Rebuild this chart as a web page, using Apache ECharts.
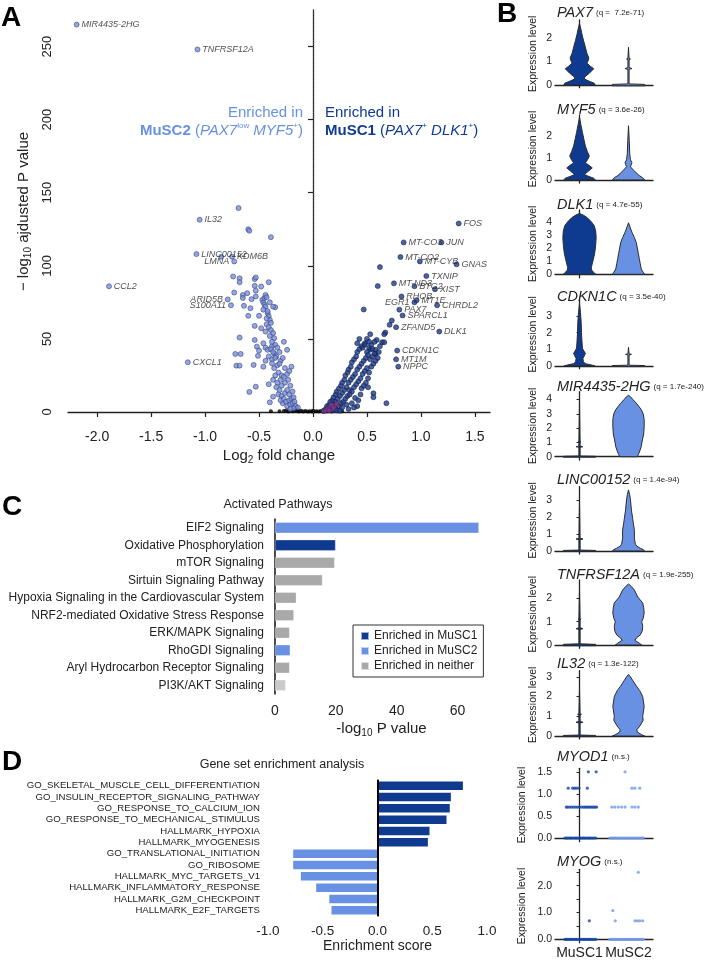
<!DOCTYPE html>
<html>
<head>
<meta charset="utf-8">
<script src="https://cdn.jsdelivr.net/npm/echarts@6/dist/echarts.min.js"></script>
<style>
html, body { margin: 0; padding: 0; background: #fff; }
#main { width: 708px; height: 960px; }
</style>
</head>
<body>
<div id="main"></div>
<script>
var FONT = '"Liberation Sans", Arial, Helvetica, sans-serif';
var DARK = '#0e3b8f';
var LIGHT = '#6891e4';
var INK = '#222';

// ---------- A: volcano (log2 fold change, -log10 adjusted p) ----------
var musc2Points = [
    [-0.69, 139.5], [-0.60, 125], [-0.59, 124], [-0.39, 119.6], [-0.85, 106.2],
    [-0.74, 92.7], [-0.68, 91.5], [-0.68, 88.8], [-0.54, 90.9], [-0.53, 92], [-0.48, 85.8], [-0.41, 88.8], [-0.54, 86.3], [-0.53, 83],
    [-0.73, 81.7], [-0.65, 80], [-0.65, 78], [-0.61, 81.3], [-0.57, 77.2], [-0.53, 79], [-0.47, 76.7], [-0.46, 75], [-0.45, 73.5], [-0.44, 72.1],
    [-0.64, 72.6], [-0.58, 71], [-0.35, 71.7], [-0.60, 65.8], [-0.50, 65.8], [-0.42, 67.6], [-0.41, 65.5], [-0.40, 63],
    [-0.54, 58.9], [-0.48, 57.3], [-0.43, 60], [-0.41, 58], [-0.39, 56], [-0.37, 54], [-0.40, 52], [-0.36, 50.5],
    [-0.68, 50.9], [-0.54, 49.3], [-0.52, 44.7], [-0.46, 47], [-0.50, 42], [-0.44, 44], [-0.42, 42.5], [-0.38, 45], [-0.35, 46], [-0.33, 44],
    [-0.72, 39.7], [-0.67, 39.7], [-0.71, 31.7], [-0.68, 31.7], [-0.55, 32.2], [-0.51, 38.4], [-0.46, 31], [-0.44, 35], [-0.41, 38], [-0.38, 36], [-0.36, 40], [-0.34, 38], [-0.31, 41],
    [-0.38, 33.3], [-0.36, 30], [-0.33, 32], [-0.30, 35], [-0.28, 37], [-0.27, 48], [-0.24, 42.5], [-0.26, 30], [-0.32, 27], [-0.29, 25], [-0.35, 25], [-0.37, 22], [-0.33, 20], [-0.30, 22], [-0.27, 24], [-0.24, 26], [-0.22, 28], [-0.20, 31],
    [-0.59, 13.7], [-0.53, 17.3], [-0.40, 6.6], [-0.41, 19], [-0.37, 10.5], [-0.28, 6],
    [-0.34, 17], [-0.31, 15], [-0.29, 18], [-0.26, 20], [-0.23, 22], [-0.21, 18], [-0.32, 12], [-0.29, 11], [-0.26, 13], [-0.24, 15], [-0.22, 12], [-0.19, 14],
    [-0.30, 8], [-0.27, 9], [-0.25, 7], [-0.22, 8], [-0.20, 9], [-0.18, 10], [-0.24, 4], [-0.21, 5], [-0.19, 6], [-0.17, 7], [-0.16, 4], [-0.14, 3], [-0.18, 2.5], [-0.21, 2],
    [-0.45, 78], [-0.46, 70], [-0.43, 64], [-0.39, 61], [-0.44, 55], [-0.38, 48], [-0.39, 43], [-0.37, 41], [-0.35, 37], [-0.31, 33],
    [-0.44, 80], [-0.43, 78.5], [-0.42, 69], [-0.40, 75], [-0.37, 72]
];
var musc1Points = [
    [0.62, 99.1], [0.60, 86.1], [0.47, 70.1], [0.73, 62.6], [0.71, 59.6], [0.67, 54.3], [0.66, 53.2], [0.53, 53.2], [0.59, 49.3],
    [0.64, 47.7], [0.66, 47.7], [0.48, 47], [0.53, 42.6], [0.58, 42.6], [0.58, 39.5], [0.45, 16.2], [0.51, 16.9], [0.56, 12.8],
    [0.56, 10.1], [0.68, 6], [0.39, 9.6], [0.34, 15],
    [0.10, 1], [0.12, 2], [0.13, 4], [0.15, 5], [0.16, 7], [0.18, 8], [0.19, 10], [0.21, 12], [0.22, 14], [0.24, 16], [0.26, 18],
    [0.27, 20], [0.29, 22], [0.30, 25], [0.32, 27], [0.33, 29], [0.35, 31], [0.36, 34], [0.38, 36], [0.40, 38], [0.41, 41],
    [0.43, 43], [0.45, 45], [0.46, 44], [0.48, 46], [0.50, 41], [0.52, 44], [0.54, 46], [0.55, 43],
    [0.14, 1.5], [0.17, 3], [0.19, 5], [0.21, 7], [0.23, 9], [0.25, 11], [0.27, 13], [0.29, 15], [0.31, 17], [0.33, 20], [0.35, 22],
    [0.37, 24], [0.39, 26], [0.41, 29], [0.43, 31], [0.45, 33], [0.47, 35], [0.49, 37], [0.51, 39], [0.53, 36], [0.55, 38], [0.57, 40],
    [0.18, 1], [0.21, 2], [0.24, 4], [0.26, 6], [0.28, 7], [0.30, 9], [0.32, 11], [0.34, 12], [0.36, 14], [0.38, 17], [0.40, 19],
    [0.42, 21], [0.44, 23], [0.46, 26], [0.48, 28], [0.50, 30], [0.52, 27], [0.54, 31], [0.56, 33], [0.58, 35], [0.60, 37],
    [0.31, 5], [0.36, 6], [0.42, 8], [0.44, 12], [0.47, 18], [0.49, 20], [0.51, 23], [0.41, 4], [0.38, 3], [0.27, 3], [0.33, 2],
    [0.22, 1], [0.25, 0.8], [0.62, 45], [0.61, 41], [0.57, 48], [0.50, 50], [0.52, 48], [0.43, 50], [0.41, 47]
];
var densePoints = [
    [0.10, 0.5], [0.12, 1.2], [0.14, 2.2], [0.16, 3.5], [0.18, 2], [0.20, 4.5], [0.15, 1], [0.19, 3], [0.22, 5.5], [0.17, 5]
];
var nsPoints = [
    [-0.39, 0.5], [-0.31, 0.5], [-0.27, 0.6], [-0.25, 1], [-0.23, 0.4], [-0.21, 0.8], [-0.19, 0.5], [-0.17, 1.2], [-0.15, 0.6],
    [-0.13, 0.3], [-0.11, 0.8], [-0.09, 0.4], [-0.07, 0.6], [-0.05, 0.3], [-0.03, 0.5], [-0.01, 0.4], [0.01, 0.3], [0.03, 0.5],
    [0.05, 0.4], [0.07, 0.6], [0.09, 0.3], [0.11, 0.5], [0.13, 0.4], [0.15, 0.6], [0.17, 0.3], [0.27, 0.5], [-0.14, 1.5], [0.0, 0.8]
];
var musc2Labeled = [
    ['MIR4435-2HG', -2.19, 265], ['TNFRSF12A', -1.07, 248], ['IL32', -1.05, 131.5], ['LINC00152', -1.08, 108],
    ['KDM6B', -0.75, 106.2], ['LMNA', -0.73, 103], ['CCL2', -1.89, 86], ['ARID5B', -0.79, 77], ['S100A11', -0.76, 73],
    ['CXCL1', -1.16, 34]
];
var musc1Labeled = [
    ['FOS', 1.35, 129], ['MT-CO3', 0.84, 116], ['JUN', 1.19, 116], ['MT-CO2', 0.81, 106], ['MT-CYB', 0.99, 103],
    ['GNAS', 1.33, 101], ['TXNIP', 1.05, 93], ['MT-ND3', 0.75, 88], ['BTG2', 0.94, 86], ['XIST', 1.13, 84],
    ['RHOB', 0.82, 79], ['EGR1', 0.94, 75], ['MT1E', 0.96, 76.5], ['CHRDL2', 1.15, 73], ['PAX7', 0.80, 70],
    ['SPARCL1', 0.83, 66], ['ZFAND5', 0.77, 58], ['DLK1', 1.17, 55], ['CDKN1C', 0.78, 42], ['MT1M', 0.77, 36],
    ['NPPC', 0.79, 31]
];
var labelOnLeft = ['LMNA', 'ARID5B', 'S100A11', 'EGR1'];
var volcanoXTicks = [-2, -1.5, -1, -0.5, 0, 0.5, 1, 1.5];
var volcanoYTicks = [0, 50, 100, 150, 200, 250];

// ---------- B: expression per cluster ----------
var groups = ['MuSC1', 'MuSC2'];
var violinGenes = ['PAX7', 'MYF5', 'DLK1', 'CDKN1C', 'MIR4435-2HG', 'LINC00152', 'TNFRSF12A', 'IL32'];
var violinQ = ['(q =  7.2e-71)', '(q = 3.6e-26)', '(q = 4.7e-55)', '(q = 3.5e-40)', '(q = 1.7e-240)', '(q = 1.4e-94)', '(q = 1.9e-255)', '(q = 1.3e-122)'];
var violinTicks = [[0, 1, 2], [0, 1, 2], [0, 1, 2, 3, 4], [0, 1, 2, 3], [0, 1, 2, 3, 4], [0, 1, 2, 3], [0, 1, 2], [0, 1, 2, 3]];
// [expression, half width in cluster units] from bottom to top
var violinProfiles = [
    [
        [[0, 0.32], [0.08, 0.3], [0.16, 0.2], [0.26, 0.1], [0.35, 0.11], [0.5, 0.2], [0.69, 0.29], [0.8, 0.22], [0.93, 0.15], [1.05, 0.18], [1.15, 0.19], [1.35, 0.15], [1.6, 0.12], [1.9, 0.08], [2.15, 0.05], [2.4, 0.025], [2.6, 0]],
        [[-0.03, 0.33], [0.03, 0.33], [0.05, 0.012], [0.66, 0.012], [0.7, 0.07], [0.74, 0.012], [1.07, 0.012], [1.1, 0.04], [1.13, 0.012], [1.6, 0]]
    ],
    [
        [[0, 0.32], [0.08, 0.29], [0.17, 0.18], [0.25, 0.1], [0.4, 0.18], [0.55, 0.26], [0.66, 0.2], [0.78, 0.12], [0.95, 0.17], [1.1, 0.2], [1.3, 0.16], [1.55, 0.12], [1.85, 0.09], [2.17, 0.06], [2.5, 0.03], [2.86, 0]],
        [[0, 0.33], [0.1, 0.29], [0.2, 0.22], [0.32, 0.16], [0.45, 0.1], [0.6, 0.04], [0.72, 0.06], [0.8, 0.07], [0.92, 0.04], [1.2, 0.025], [1.8, 0.015], [2.48, 0]]
    ],
    [
        [[0, 0.33], [0.12, 0.3], [0.3, 0.25], [0.5, 0.24], [0.8, 0.26], [1.1, 0.28], [1.6, 0.31], [2.2, 0.33], [2.8, 0.34], [3.3, 0.33], [3.7, 0.3], [4.0, 0.24], [4.3, 0.16], [4.5, 0.08], [4.63, 0]],
        [[0, 0.33], [0.15, 0.3], [0.4, 0.26], [0.8, 0.24], [1.2, 0.22], [1.6, 0.2], [2.0, 0.18], [2.4, 0.16], [2.8, 0.12], [3.2, 0.07], [3.6, 0.03], [3.92, 0]]
    ],
    [
        [[0, 0.32], [0.06, 0.25], [0.14, 0.12], [0.26, 0.08], [0.46, 0.07], [0.62, 0.1], [0.76, 0.12], [0.9, 0.09], [1.06, 0.06], [1.5, 0.05], [2.0, 0.04], [2.6, 0.035], [3.2, 0.02], [3.76, 0]],
        [[-0.03, 0.33], [0.03, 0.33], [0.05, 0.012], [0.66, 0.012], [0.7, 0.06], [0.74, 0.012], [1.12, 0]]
    ],
    [
        [[-0.03, 0.33], [0.03, 0.33], [0.05, 0.012], [0.66, 0.012], [0.7, 0.07], [0.74, 0.012], [1.02, 0.012], [1.05, 0.03], [1.08, 0.012], [3.83, 0]],
        [[0, 0.18], [0.15, 0.2], [0.4, 0.23], [0.7, 0.26], [1.1, 0.28], [1.6, 0.31], [2.1, 0.32], [2.6, 0.32], [3.0, 0.3], [3.3, 0.26], [3.7, 0.17], [4.0, 0.09], [4.2, 0.04], [4.3, 0]]
    ],
    [
        [[-0.03, 0.33], [0.03, 0.33], [0.05, 0.012], [0.66, 0.012], [0.7, 0.07], [0.74, 0.012], [2.85, 0]],
        [[0, 0.33], [0.08, 0.3], [0.16, 0.24], [0.28, 0.17], [0.4, 0.14], [0.75, 0.12], [1.25, 0.12], [1.6, 0.1], [1.9, 0.085], [2.4, 0.06], [3.0, 0.04], [3.3, 0.025], [3.59, 0]]
    ],
    [
        [[-0.03, 0.33], [0.03, 0.33], [0.05, 0.012], [0.66, 0.012], [0.7, 0.07], [0.74, 0.012], [1.07, 0.012], [1.1, 0.03], [1.13, 0.012], [2.4, 0]],
        [[0, 0.27], [0.08, 0.22], [0.2, 0.13], [0.3, 0.16], [0.43, 0.24], [0.6, 0.28], [0.8, 0.29], [1.0, 0.27], [1.15, 0.3], [1.36, 0.32], [1.6, 0.31], [1.8, 0.29], [2.05, 0.19], [2.35, 0.12], [2.5, 0.06], [2.61, 0]]
    ],
    [
        [[-0.03, 0.33], [0.03, 0.33], [0.05, 0.012], [0.66, 0.012], [0.7, 0.07], [0.74, 0.012], [1.07, 0.012], [1.1, 0.04], [1.13, 0.012], [2.4, 0]],
        [[0, 0.33], [0.08, 0.26], [0.2, 0.18], [0.32, 0.17], [0.5, 0.23], [0.8, 0.3], [1.0, 0.29], [1.5, 0.32], [2.0, 0.29], [2.3, 0.23], [2.5, 0.17], [2.8, 0.09], [3.0, 0.04], [3.12, 0]]
    ]
];
var stripGenes = ['MYOD1', 'MYOG'];
var stripQ = ['(n.s.)', '(n.s.)'];
var stripTicks = [[0, 0.5, 1, 1.5], [0, 1, 2]];
var stripMinorTicks = [[0, 0.5, 1, 1.5], [0, 0.5, 1, 1.5, 2, 2.5]];
// [jitter within cluster, expression]
var myod1Musc1 = [
    [-0.30, 0], [-0.27, 0], [-0.25, 0], [-0.22, 0], [-0.19, 0], [-0.17, 0], [-0.14, 0], [-0.11, 0], [-0.08, 0], [-0.06, 0], [-0.03, 0], [0.0, 0],
    [0.02, 0], [0.05, 0], [0.08, 0], [0.1, 0], [0.13, 0], [0.16, 0], [0.19, 0], [0.21, 0], [0.24, 0], [0.27, 0], [0.3, 0], [0.33, 0],
    [-0.27, 0.7], [-0.24, 0.7], [-0.2, 0.7], [-0.16, 0.7], [-0.12, 0.7], [-0.08, 0.7], [-0.04, 0.7], [0.0, 0.7], [0.04, 0.7], [0.08, 0.7],
    [0.11, 0.7], [0.14, 0.7], [0.17, 0.7], [0.2, 0.7], [0.23, 0.7], [0.26, 0.7], [0.29, 0.7], [0.32, 0.7], [0.35, 0.7],
    [-0.23, 1.13], [-0.14, 1.13], [-0.10, 1.13], [-0.06, 1.13], [-0.01, 1.13], [0.16, 1.13],
    [0.18, 1.5], [0.34, 1.5]
];
var myod1Musc2 = [
    [-0.38, 0], [-0.35, 0], [-0.32, 0], [-0.29, 0], [-0.26, 0], [-0.23, 0], [-0.2, 0], [-0.17, 0], [-0.14, 0], [-0.11, 0], [-0.08, 0], [-0.05, 0],
    [-0.02, 0], [0.01, 0], [0.04, 0], [0.07, 0], [0.1, 0], [0.13, 0], [0.16, 0], [0.19, 0], [0.22, 0], [0.25, 0], [0.28, 0], [0.3, 0],
    [-0.34, 0.7], [-0.28, 0.7], [-0.21, 0.7], [-0.14, 0.7], [-0.07, 0.7], [0.07, 0.7], [0.13, 0.7], [0.2, 0.7],
    [0.07, 1.13], [0.13, 1.13], [0.23, 1.13],
    [-0.07, 1.5]
];
var myogMusc1 = [
    [-0.30, 0], [-0.27, 0], [-0.25, 0], [-0.22, 0], [-0.19, 0], [-0.17, 0], [-0.14, 0], [-0.11, 0], [-0.08, 0], [-0.06, 0], [-0.03, 0], [0.0, 0],
    [0.02, 0], [0.05, 0], [0.08, 0], [0.1, 0], [0.13, 0], [0.16, 0], [0.19, 0], [0.21, 0], [0.24, 0], [0.27, 0], [0.3, 0], [0.33, 0],
    [0.2, 0.69]
];
var myogMusc2 = [
    [-0.38, 0], [-0.35, 0], [-0.32, 0], [-0.29, 0], [-0.26, 0], [-0.23, 0], [-0.2, 0], [-0.17, 0], [-0.14, 0], [-0.11, 0], [-0.08, 0], [-0.05, 0],
    [-0.02, 0], [0.01, 0], [0.04, 0], [0.07, 0], [0.1, 0], [0.13, 0], [0.16, 0], [0.19, 0], [0.22, 0], [0.25, 0], [0.28, 0], [0.3, 0],
    [-0.32, 1.07], [-0.27, 0.69], [0.13, 0.69], [0.18, 0.69], [0.23, 0.69], [0.29, 0.69], [0.2, 2.5]
];

// ---------- C: IPA pathways ----------
var pathways = ['EIF2 Signaling', 'Oxidative Phosphorylation', 'mTOR Signaling', 'Sirtuin Signaling Pathway',
    'Hypoxia Signaling in the Cardiovascular System', 'NRF2-mediated Oxidative Stress Response', 'ERK/MAPK Signaling',
    'RhoGDI Signaling', 'Aryl Hydrocarbon Receptor Signaling', 'PI3K/AKT Signaling'];
var pathwayLogP = [67, 19.9, 19.6, 15.6, 7.0, 6.2, 4.8, 5.0, 4.8, 3.5];
var pathwayGroup = [1, 0, 2, 2, 2, 2, 2, 1, 2, 2];
var pathwayGroupNames = ['Enriched in MuSC1', 'Enriched in MuSC2', 'Enriched in neither'];
var fadedPathways = ['PI3K/AKT Signaling'];

// ---------- D: GSEA ----------
var gseaSets = ['GO_SKELETAL_MUSCLE_CELL_DIFFERENTIATION', 'GO_INSULIN_RECEPTOR_SIGNALING_PATHWAY', 'GO_RESPONSE_TO_CALCIUM_ION',
    'GO_RESPONSE_TO_MECHANICAL_STIMULUS', 'HALLMARK_HYPOXIA', 'HALLMARK_MYOGENESIS', 'GO_TRANSLATIONAL_INITIATION', 'GO_RIBOSOME',
    'HALLMARK_MYC_TARGETS_V1', 'HALLMARK_INFLAMMATORY_RESPONSE', 'HALLMARK_G2M_CHECKPOINT', 'HALLMARK_E2F_TARGETS'];
var gseaScores = [0.78, 0.67, 0.66, 0.63, 0.475, 0.46, -0.77, -0.77, -0.70, -0.56, -0.44, -0.42];

// ---------- layout ----------
// B panels: [top, bottom, yMin, yMax, titleY]
var bLayout = [
    [20, 87.7, -0.11, 2.75, 13],
    [115, 183, -0.14, 2.97, 110],
    [210, 277.7, -0.26, 4.89, 205],
    [300, 368.7, -0.16, 3.96, 297],
    [391.7, 460, -0.23, 4.55, 387],
    [486.7, 554, -0.18, 3.78, 480],
    [580, 648.3, -0.14, 2.78, 575],
    [670.7, 739, -0.15, 3.31, 664],
    [768.3, 841.7, -0.084, 1.58, 757],
    [869.3, 942.7, -0.127, 2.61, 862]
];

var chartDom = echarts.init(document.getElementById('main'));

var axisLineStyle = { lineStyle: { color: INK, width: 1.3 } };
var subRich = { s: { fontSize: 10, verticalAlign: 'bottom', padding: [8, 0, 0, 0], fontFamily: FONT } };
var grids = [{ left: 68, top: 10, width: 422, height: 403 }];
var xAxes = [{
    gridIndex: 0, type: 'value', min: -2.27, max: 1.64, offset: 11,
    axisLine: axisLineStyle,
    axisTick: { length: 5, customValues: volcanoXTicks, lineStyle: { color: INK, width: 1.2 } },
    axisLabel: { customValues: volcanoXTicks, formatter: function (v) { return v.toFixed(1); }, fontSize: 14, color: INK, margin: 6, fontFamily: FONT },
    splitLine: { show: false },
    name: 'Log{s|2} fold change', nameLocation: 'middle', nameGap: 23,
    nameTextStyle: { fontSize: 15, color: INK, fontFamily: FONT, rich: subRich }
}];
var yAxes = [{
    gridIndex: 0, type: 'value', min: -0.7, max: 275, offset: 7,
    axisLine: axisLineStyle,
    axisTick: { length: 5, customValues: volcanoYTicks, lineStyle: { color: INK, width: 1.2 } },
    axisLabel: { customValues: volcanoYTicks, rotate: 90, fontSize: 13, color: INK, margin: 7, fontFamily: FONT },
    splitLine: { show: false },
    name: '\u2212 log{s|10} ajdusted P value', nameLocation: 'middle', nameRotate: 90, nameGap: 26,
    nameTextStyle: { fontSize: 15, color: INK, fontFamily: FONT, rich: subRich }
}];

var pointStyle2 = { color: '#7b90dc', borderColor: '#2f3b70', borderWidth: 0.7 };
var pointStyle1 = { color: '#1f3c8a', borderColor: '#0f1c44', borderWidth: 0.7 };
function labeledData(list) {
    return list.map(function (g) {
        return {
            name: g[0], value: [g[1], g[2]],
            label: { position: labelOnLeft.indexOf(g[0]) >= 0 ? 'left' : 'right' }
        };
    });
}
var geneLabel = { show: true, formatter: '{b}', fontSize: 9, fontStyle: 'italic', color: INK, distance: 2, fontFamily: FONT };

var series = [
    { type: 'scatter', xAxisIndex: 0, yAxisIndex: 0, data: nsPoints, symbolSize: 4, itemStyle: { color: '#000' }, clip: false, silent: true,
      markLine: { silent: true, symbol: 'none', label: { show: false }, lineStyle: { type: 'dotted', color: '#444', width: 1 }, data: [{ xAxis: 0 }] } },
    { type: 'scatter', xAxisIndex: 0, yAxisIndex: 0, data: musc2Points, symbolSize: 5, itemStyle: pointStyle2, clip: false, silent: true },
    { type: 'scatter', xAxisIndex: 0, yAxisIndex: 0, data: musc1Points, symbolSize: 5, itemStyle: pointStyle1, clip: false, silent: true },
    { type: 'scatter', xAxisIndex: 0, yAxisIndex: 0, data: densePoints, symbolSize: 5, itemStyle: { color: '#7a3d8a', borderColor: '#3a1a4a', borderWidth: 0.5 }, clip: false, silent: true },
    { type: 'scatter', xAxisIndex: 0, yAxisIndex: 0, data: labeledData(musc2Labeled), symbolSize: 5, itemStyle: pointStyle2, label: geneLabel, clip: false, silent: true },
    { type: 'scatter', xAxisIndex: 0, yAxisIndex: 0, data: labeledData(musc1Labeled), symbolSize: 5, itemStyle: pointStyle1, label: geneLabel, clip: false, silent: true }
];

var graphics = [];
function addText(x, y, text, font, color, align, rich) {
    var s = { text: text, x: x, y: y, font: font, fill: color || INK, align: align || 'left', verticalAlign: 'middle' };
    if (rich) s.rich = rich;
    graphics.push({ type: 'text', style: s, silent: true });
}

// panel letters
addText(1, 18, 'A', 'bold 28px ' + FONT, '#000');
addText(497, 14, 'B', 'bold 28px ' + FONT, '#000');
addText(2, 507, 'C', 'bold 28px ' + FONT, '#000');
addText(2, 762, 'D', 'bold 28px ' + FONT, '#000');

// volcano annotations
var annRich = function (c) {
    return {
        n: { fontSize: 15, fontFamily: FONT, color: c, lineHeight: 18 },
        b: { fontSize: 15, fontWeight: 'bold', fontFamily: FONT, color: c, lineHeight: 18 },
        i: { fontSize: 15, fontStyle: 'italic', fontFamily: FONT, color: c, lineHeight: 18 },
        s: { fontSize: 8, fontFamily: FONT, color: c, verticalAlign: 'top', lineHeight: 18 }
    };
};
addText(303, 122, '{n|Enriched in}\n{b|MuSC2} {n|(}{i|PAX7}{s|low} {i|MYF5}{s|+}{n|)}', '15px ' + FONT, LIGHT, 'right', annRich(LIGHT));
addText(325, 122, '{n|Enriched in}\n{b|MuSC1} {n|(}{i|PAX7}{s|+} {i|DLK1}{s|+}{n|)}', '15px ' + FONT, DARK, 'left', annRich(DARK));

// B panels
var titleRich = {
    g: { fontSize: 14.5, fontStyle: 'italic', fontFamily: FONT, color: INK, padding: [0, 3, 0, 0] },
    q: { fontSize: 8, fontFamily: FONT, color: INK }
};
var bGenes = violinGenes.concat(stripGenes);
var bQ = violinQ.concat(stripQ);
var bTicks = violinTicks.concat(stripTicks);

function violinRender(gi) {
    return function (params, api) {
        var grp = api.value(0);
        var prof = violinProfiles[gi][grp];
        var right = [];
        var left = [];
        prof.forEach(function (p) {
            right.push(api.coord([grp + p[1], p[0]]));
            left.unshift(api.coord([grp - p[1], p[0]]));
        });
        return {
            type: 'polygon',
            shape: { points: right.concat(left) },
            style: { fill: grp === 0 ? DARK : LIGHT, stroke: '#2b2b2b', lineWidth: 1 }
        };
    };
}

bLayout.forEach(function (L, k) {
    var gIdx = k + 1;
    var isLast = k === bLayout.length - 1;
    var isStrip = k >= violinGenes.length;
    grids.push({ left: 555, width: 98, top: L[0], height: L[1] - L[0] });
    xAxes.push({
        gridIndex: gIdx, type: 'value', min: -0.5, max: 1.5,
        axisLine: axisLineStyle, axisTick: { show: false }, splitLine: { show: false },
        axisLabel: isLast ? {
            customValues: [0, 1], formatter: function (v) { return groups[Math.round(v)]; },
            fontSize: 14, color: INK, margin: 3, fontFamily: FONT
        } : { show: false }
    });
    var ticks = bTicks[k];
    yAxes.push({
        gridIndex: gIdx, type: 'value', min: L[2], max: L[3],
        axisLine: axisLineStyle,
        axisTick: { length: 3, customValues: isStrip ? stripMinorTicks[k - violinGenes.length] : ticks, lineStyle: { color: INK } },
        axisLabel: {
            customValues: ticks, fontSize: 10.5, color: INK, margin: 3, fontFamily: FONT,
            formatter: function (v) { return isStrip ? v.toFixed(1) : String(v); }
        },
        splitLine: { show: false },
        name: 'Expression level', nameLocation: 'middle', nameRotate: 90, nameGap: isStrip ? 27 : 16,
        nameTextStyle: { fontSize: 10.5, color: INK, fontFamily: FONT }
    });
    addText(557, L[4], '{g|' + bGenes[k] + '}{q|' + bQ[k] + '}', '14.5px ' + FONT, INK, 'left', titleRich);
    if (!isStrip) {
        series.push({
            type: 'custom', xAxisIndex: gIdx, yAxisIndex: gIdx, silent: true,
            data: [[0, 0], [1, 0]], encode: { x: 0, y: 1 },
            renderItem: violinRender(k), clip: false
        });
    }
});

var stripSets = [[myod1Musc1, myod1Musc2], [myogMusc1, myogMusc2]];
stripSets.forEach(function (pair, s) {
    var gIdx = violinGenes.length + s + 1;
    pair.forEach(function (pts, grp) {
        series.push({
            type: 'scatter', xAxisIndex: gIdx, yAxisIndex: gIdx, silent: true, clip: false,
            symbolSize: 3.2,
            itemStyle: { color: grp === 0 ? '#1446a8' : '#6f98ea' },
            data: pts.map(function (p) { return [grp + p[0], p[1]]; })
        });
    });
});

// C
var cIdx = grids.length;
grids.push({ left: 275, top: 519, width: 213, height: 175 });
xAxes.push({
    gridIndex: cIdx, type: 'value', min: 0, max: 70, interval: 20,
    axisLine: { lineStyle: { color: '#111', width: 1.5 } },
    axisTick: { length: 6, lineStyle: { color: '#111', width: 1.3 } },
    axisLabel: { fontSize: 14, color: INK, margin: 10, fontFamily: FONT, showMaxLabel: false },
    splitLine: { show: false },
    name: '-log{s|10} P value', nameLocation: 'middle', nameGap: 26,
    nameTextStyle: { fontSize: 15, color: INK, fontFamily: FONT, rich: subRich }
});
yAxes.push({
    gridIndex: cIdx, type: 'category', data: pathways, inverse: true,
    axisLine: { lineStyle: { color: '#111', width: 1.5 } },
    axisTick: { alignWithLabel: true, length: 7, lineStyle: { color: '#111', width: 1.3 } },
    axisLabel: { interval: 0, fontSize: 12, color: INK, margin: 11, fontFamily: FONT }
});
var groupColors = [DARK, LIGHT, '#a9a9a9'];
pathwayGroupNames.forEach(function (gname, gi) {
    series.push({
        type: 'bar', name: gname, xAxisIndex: cIdx, yAxisIndex: cIdx, stack: 'ipa', barWidth: 11, silent: true,
        itemStyle: { color: groupColors[gi], borderColor: 'rgba(255,255,255,0.6)', borderWidth: 0.5 },
        data: pathways.map(function (p, i) {
            if (pathwayGroup[i] !== gi) return '-';
            if (fadedPathways.indexOf(p) >= 0) return { value: pathwayLogP[i], itemStyle: { color: '#cacaca' } };
            return pathwayLogP[i];
        })
    });
});
addText(278, 505, 'Activated Pathways', '12.5px ' + FONT, INK, 'center');

// D
var dIdx = grids.length;
grids.push({ left: 268, top: 780, width: 219, height: 136 });
xAxes.push({
    gridIndex: dIdx, type: 'value', min: -1, max: 1, interval: 0.5,
    axisLine: { lineStyle: { color: '#111', width: 1.5 } },
    axisTick: { length: 6, lineStyle: { color: '#111', width: 1.3 } },
    axisLabel: { fontSize: 13.5, color: INK, margin: 8, fontFamily: FONT, formatter: function (v) { return v.toFixed(1); } },
    splitLine: { show: false },
    name: 'Enrichment score', nameLocation: 'middle', nameGap: 22,
    nameTextStyle: { fontSize: 14, color: INK, fontFamily: FONT }
});
yAxes.push({
    gridIndex: dIdx, type: 'category', data: gseaSets, inverse: true,
    axisLine: { lineStyle: { color: '#111', width: 1.5 } },
    axisTick: { alignWithLabel: true, length: 6, lineStyle: { color: '#111', width: 1.3 } },
    axisLabel: { interval: 0, fontSize: 9.6, color: INK, margin: 8, fontFamily: FONT }
});
series.push({
    type: 'bar', xAxisIndex: dIdx, yAxisIndex: dIdx, barWidth: 8.5, silent: true,
    data: gseaScores.map(function (v) { return { value: v, itemStyle: { color: v > 0 ? DARK : LIGHT } }; }),
    markLine: { silent: true, symbol: 'none', label: { show: false }, lineStyle: { type: 'solid', color: '#000', width: 2 }, data: [{ xAxis: 0 }] }
});
addText(282, 765, 'Gene set enrichment analysis', '12.5px ' + FONT, INK, 'center');

var option = {
    animation: false,
    backgroundColor: '#fff',
    textStyle: { fontFamily: FONT },
    grid: grids,
    xAxis: xAxes,
    yAxis: yAxes,
    legend: {
        data: pathwayGroupNames, left: 353, top: 625, orient: 'vertical',
        icon: 'rect', itemWidth: 8, itemHeight: 8, itemGap: 1,
        borderColor: '#333', borderWidth: 1, padding: [4, 6, 4, 7],
        textStyle: { fontSize: 12, color: INK, fontFamily: FONT, lineHeight: 14 },
        selectedMode: false
    },
    graphic: graphics,
    series: series
};
chartDom.setOption(option);
</script>
</body>
</html>
